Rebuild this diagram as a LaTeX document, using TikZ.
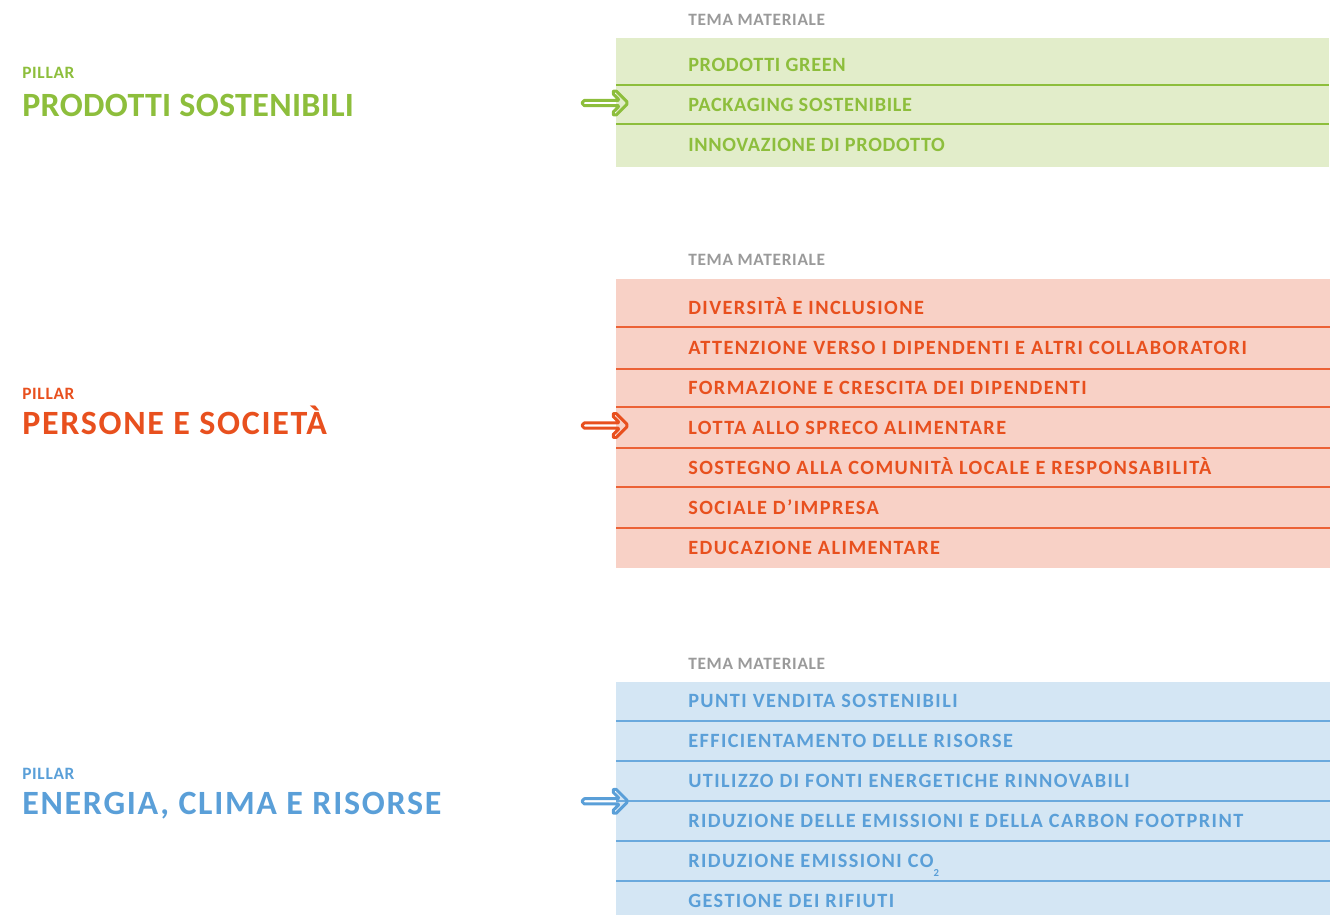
\documentclass[tikz,border=0pt]{standalone}
\usepackage{fontspec}
\setmainfont{Carlito}
% tracking differs per pillar block
\newfontfamily\titlefont[LetterSpace=5]{Carlito}
\newfontfamily\titlefontg[LetterSpace=1]{Carlito}
\newfontfamily\itemfont[LetterSpace=7]{Carlito}
\newfontfamily\itemfontg[LetterSpace=3.3]{Carlito}
\newfontfamily\smallfont[LetterSpace=4]{Carlito}
\usepackage{tikz}
\usetikzlibrary{positioning}

% pillar colours
\definecolor{pgreen}{HTML}{8DBE3C}
\definecolor{pgreenbg}{HTML}{E2EDCA}
\definecolor{pred}{HTML}{E8501E}
\definecolor{predbg}{HTML}{F8D1C6}
\definecolor{predline}{HTML}{EC6236}
\definecolor{pblue}{HTML}{5A9FD8}
\definecolor{pbluebg}{HTML}{D4E6F4}
\definecolor{pblueline}{HTML}{6AA9DD}
\definecolor{temagray}{HTML}{9A9A9A}

\tikzset{
  pillar/.style={anchor=base west, inner sep=0pt, font=\smallfont\bfseries\fontsize{13}{13}\selectfont},
  pillartitle/.style={anchor=base west, inner sep=0pt, font=\titlefont\bfseries\fontsize{25.5}{25.5}\selectfont},
  pillartitleg/.style={pillartitle, font=\titlefontg\bfseries\fontsize{25.5}{25.5}\selectfont},
  tema/.style={anchor=base west, inner sep=0pt, text=temagray, font=\smallfont\bfseries\fontsize{13}{13}\selectfont},
  item/.style={anchor=base west, inner sep=0pt, font=\itemfont\bfseries\fontsize{15.2}{15.2}\selectfont},
  itemg/.style={item, text=pgreen, font=\itemfontg\bfseries\fontsize{15.2}{15.2}\selectfont},
  rowline/.style={line width=0.9pt},
  hollowarrow/.style={line width=2.2pt, rounded corners=1.4pt, line join=round},
}

% open arrow pointing right: colour, x, y of the shaft end
\newcommand{\openarrow}[3]{%
  \draw[hollowarrow, #1, shift={(#2,#3)}]
    (0,-2.6) -- (37.2,-2.6) -- (29.6,-10.2) -- (32.6,-13.2) -- (45.8,0)
    -- (32.6,13.2) -- (29.6,10.2) -- (37.2,2.6) -- (0,2.6) -- cycle;
}

\begin{document}
\begin{tikzpicture}[x=0.75pt, y=-0.75pt]
    \useasboundingbox (0,0) rectangle (1336,915);

    % table backgrounds
    \fill[pgreenbg] (616,38) rectangle (1329,167);
    \fill[predbg] (616,279) rectangle (1330,567.5);
    \fill[pbluebg] (616,682) rectangle (1330,915);

    % row separators
    \draw[rowline, pgreen] (616,85) -- (1329,85);
    \draw[rowline, pgreen] (616,124) -- (1329,124);

    \draw[rowline, predline] (616,327) -- (1330,327);
    \draw[rowline, predline] (616,369) -- (1330,369);
    \draw[rowline, predline] (616,407) -- (1330,407);
    \draw[rowline, predline] (616,448) -- (1330,448);
    \draw[rowline, predline] (616,487) -- (1330,487);
    \draw[rowline, predline] (616,528) -- (1330,528);

    \draw[rowline, pblueline] (616,721) -- (1330,721);
    \draw[rowline, pblueline] (616,761) -- (1330,761);
    \draw[rowline, pblueline] (616,801) -- (1330,801);
    \draw[rowline, pblueline] (616,841) -- (1330,841);
    \draw[rowline, pblueline] (616,881) -- (1330,881);

    % pillar 1
    \node[pillar, text=pgreen] (pil1) at (22,78.3) {PILLAR};
    \node[pillartitleg, text=pgreen] (title1) at (22,116) {PRODOTTI SOSTENIBILI};
    \node[tema] (tema1) at (688,25.5) {TEMA MATERIALE};
    \node[itemg] (g1) at (688,71.5) {PRODOTTI GREEN};
    \node[itemg] (g2) at (688,111.5) {PACKAGING SOSTENIBILE};
    \node[itemg] (g3) at (688,151.5) {INNOVAZIONE DI PRODOTTO};
    \openarrow{pgreen}{582.4}{103}

    % pillar 2
    \node[pillar, text=pred] (pil2) at (22,399.5) {PILLAR};
    \node[pillartitle, text=pred] (title2) at (22,434.6) {PERSONE E SOCIETÀ};
    \node[tema] (tema2) at (688,265.5) {TEMA MATERIALE};
    \node[item, text=pred] (r1) at (688,314) {DIVERSITÀ E INCLUSIONE};
    \node[item, text=pred] (r2) at (688,354) {ATTENZIONE VERSO I DIPENDENTI E ALTRI COLLABORATORI};
    \node[item, text=pred] (r3) at (688,394) {FORMAZIONE E CRESCITA DEI DIPENDENTI};
    \node[item, text=pred] (r4) at (688,434) {LOTTA ALLO SPRECO ALIMENTARE};
    \node[item, text=pred] (r5) at (688,474) {SOSTEGNO ALLA COMUNITÀ LOCALE E RESPONSABILITÀ};
    \node[item, text=pred] (r6) at (688,514) {SOCIALE D’IMPRESA};
    \node[item, text=pred] (r7) at (688,554) {EDUCAZIONE ALIMENTARE};
    \openarrow{pred}{582.4}{425.5}

    % pillar 3
    \node[pillar, text=pblue] (pil3) at (22,779) {PILLAR};
    \node[pillartitle, text=pblue] (title3) at (22,814.6) {ENERGIA, CLIMA E RISORSE};
    \node[tema] (tema3) at (688,669.5) {TEMA MATERIALE};
    \node[item, text=pblue] (b1) at (688,707.5) {PUNTI VENDITA SOSTENIBILI};
    \node[item, text=pblue] (b2) at (688,747.5) {EFFICIENTAMENTO DELLE RISORSE};
    \node[item, text=pblue] (b3) at (688,787.5) {UTILIZZO DI FONTI ENERGETICHE RINNOVABILI};
    \node[item, text=pblue] (b4) at (688,827.5) {RIDUZIONE DELLE EMISSIONI E DELLA CARBON FOOTPRINT};
    \node[item, text=pblue] (b5) at (688,867.5) {RIDUZIONE EMISSIONI CO\raisebox{-7pt}{\fontsize{8}{8}\selectfont 2}};
    \node[item, text=pblue] (b6) at (688,907.5) {GESTIONE DEI RIFIUTI};
    \openarrow{pblue}{582.4}{801.3}

\end{tikzpicture}
\end{document}
